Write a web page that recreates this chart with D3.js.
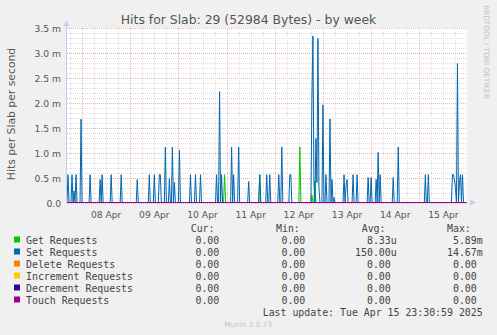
<!DOCTYPE html>
<html>
<head>
<meta charset="utf-8">
<script src="https://cdn.jsdelivr.net/npm/d3@7"></script>
<style>
  body { margin: 0; background: #f0f0f0; }
  svg text { white-space: pre; }
</style>
</head>
<body>
<svg id="chart" width="497" height="335"></svg>
<script>
// hours since 08 Apr 00:00, values in milli-hits per second (sparse, zero elsewhere)
const setHours = [-7, -5, -4, -3, -0.5, 4, 9, 10, 14.5, 19.5, 27.5, 33.5, 36, 38.5, 39, 41.5, 43.5, 45, 46, 48.5,
  54, 56.5, 59, 67, 68.5, 69.5, 74.5, 75.5, 78, 83, 88.5, 92, 93.5, 98, 99.5, 103.5, 104,
  114.5, 115, 115.5, 116.5, 117, 117.5, 118, 120, 121.5, 123.5, 124.5, 125.5,
  130.5, 131.5, 132, 135, 137, 142.5, 144, 146.5, 147.5, 148.5, 155, 157.5,
  171, 172.5, 184.5, 185, 185.5, 186, 187, 188, 188.5, 189.5];
const setValues = [0.556, 0.556, 0.23, 0.556, 1.667, 0.556, 0.46, 0.556, 0.556, 0.556, 0.46, 0.556, 0.556, 0.556, 0.556, 1.11, 0.48, 1.11, 0.4, 1.05,
  0.556, 0.556, 0.556, 0.556, 2.22, 0.556, 1.11, 0.556, 1.11, 0.42, 0.556, 0.556, 0.556, 0.556, 1.11, 0.556, 0.556,
  2.08, 3.33, 0.4, 1.28, 0.4, 3.28, 0.3, 1.95, 0.556, 1.67, 0.46, 0.1,
  0.556, 0.33, 0.46, 0.556, 0.556, 0.5, 0.5, 0.46, 1.0, 0.556, 0.5, 1.11,
  0.556, 0.556, 0.556, 0.556, 0.45, 0.3, 2.78, 0.4, 0.556, 0.556];
const getHours = [71, 88.5, 108.5, 114.5, 116];
const getValues = [0.556, 0.556, 1.11, 0.15, 0.43];

const seriesNames = ["Get Requests", "Set Requests", "Delete Requests", "Increment Requests", "Decrement Requests", "Touch Requests"];
const seriesColors = ["#00cc00", "#0066b3", "#ff8000", "#ffcc00", "#330099", "#990099"];
const curCol = ["0.00 ", "0.00 ", "0.00 ", "0.00 ", "0.00 ", "0.00 "];
const minCol = ["0.00 ", "0.00 ", "0.00 ", "0.00 ", "0.00 ", "0.00 "];
const avgCol = ["8.33u", "150.00u", "0.00 ", "0.00 ", "0.00 ", "0.00 "];
const maxCol = ["5.89m", "14.67m", "0.00 ", "0.00 ", "0.00 ", "0.00 "];

const yTicks = [0, 0.5, 1.0, 1.5, 2.0, 2.5, 3.0, 3.5];
const dayLabels = ["08 Apr", "09 Apr", "10 Apr", "11 Apr", "12 Apr", "13 Apr", "14 Apr", "15 Apr"];

const svg = d3.select("#chart");
const pL = 67, pR = 467, pT = 28, pB = 203;

const x = d3.scaleLinear().domain([-7.5, 191.75]).range([pL, pR]);
const y = d3.scaleLinear().domain([0, 3.5]).range([pB, pT]);

svg.append("rect").attr("width", 497).attr("height", 335).attr("fill", "#f0f0f0");
svg.append("rect").attr("x", pL).attr("y", pT).attr("width", pR - pL).attr("height", pB - pT).attr("fill", "#fff");

// grid
const grid = svg.append("g").attr("shape-rendering", "crispEdges").attr("stroke-dasharray", "1,1");
d3.range(0, 3.51, 0.1).forEach(v => {
  const major = Math.abs(v * 2 - Math.round(v * 2)) < 1e-6;
  grid.append("line")
    .attr("x1", pL).attr("x2", pR)
    .attr("y1", Math.round(y(v)) + 0.5).attr("y2", Math.round(y(v)) + 0.5)
    .attr("stroke", major ? "#eeb4b4" : "#dedede");
});
d3.range(-6, 192, 6).forEach(h => {
  const major = h % 24 === 0;
  grid.append("line")
    .attr("y1", pT).attr("y2", pB)
    .attr("x1", Math.round(x(h)) + 0.5).attr("x2", Math.round(x(h)) + 0.5)
    .attr("stroke", major ? "#eeb4b4" : "#dedede");
});

// series
function buildSeries(hours, values) {
  const m = new Map(hours.map((h, i) => [Math.round(h * 2), values[i]]));
  return d3.range(-15, 384).map(k => ({ t: k / 2, v: m.get(k) || 0 }));
}
const allSeries = [
  buildSeries(getHours, getValues),
  buildSeries(setHours, setValues),
  buildSeries([], []),
  buildSeries([], []),
  buildSeries([], []),
  buildSeries([], [])
];
const line = d3.line().x(d => x(d.t)).y(d => y(d.v) - 0.5);
allSeries.forEach((s, i) => {
  svg.append("path")
    .attr("d", line(s))
    .attr("fill", "none")
    .attr("stroke", seriesColors[i])
    .attr("stroke-width", 1);
});

// axes
const axisCol = "#c8ccf4";
svg.append("line").attr("x1", pL - 0.5).attr("x2", pL - 0.5).attr("y1", pB).attr("y2", 24).attr("stroke", axisCol);
svg.append("path").attr("d", `M${pL - 3.5},26 L${pL - 0.5},20 L${pL + 2.5},26 Z`).attr("fill", axisCol);
svg.append("path").attr("d", `M${pR + 3},${pB - 3.5} L${pR + 9},${pB - 0.5} L${pR + 3},${pB + 2.5} Z`).attr("fill", axisCol);

const labCol = "#555";
svg.append("g").selectAll("text").data(yTicks).join("text")
  .attr("x", 61).attr("y", d => y(d) + 3.5)
  .attr("text-anchor", "end")
  .attr("font-family", "DejaVu Sans").attr("font-size", 9.2).attr("fill", labCol)
  .text(d => d === 0 ? "0.0" : d.toFixed(1) + " m");

svg.append("g").selectAll("text").data(dayLabels).join("text")
  .attr("x", (d, i) => x(i * 24 + 12)).attr("y", 218)
  .attr("text-anchor", "middle")
  .attr("font-family", "DejaVu Sans").attr("font-size", 9.2).attr("fill", labCol)
  .text(d => d);

svg.append("text")
  .attr("x", 248.5).attr("y", 24)
  .attr("text-anchor", "middle")
  .attr("font-family", "DejaVu Sans").attr("font-size", 12.4).attr("fill", "#555")
  .text("Hits for Slab: 29 (52984 Bytes) - by week");

svg.append("text")
  .attr("transform", "translate(15,114) rotate(-90)")
  .attr("text-anchor", "middle")
  .attr("font-family", "DejaVu Sans").attr("font-size", 10.8).attr("fill", labCol)
  .text("Hits per Slab per second");

svg.append("text")
  .attr("transform", "translate(484,5) rotate(90)")
  .attr("font-family", "DejaVu Sans").attr("font-size", 7.3).attr("fill", "#c4c4c4")
  .text("RRDTOOL / TOBI OETIKER");

// legend
const mono = "DejaVu Sans Mono", fs = 9.9, txtCol = "#444";
const heads = [["Cur:", 190.7], ["Min:", 276], ["Avg:", 361.7], ["Max:", 447]];
heads.forEach(([t, hx]) => {
  svg.append("text").attr("x", hx).attr("y", 232)
    .attr("font-family", mono).attr("font-size", fs).attr("fill", txtCol).text(t);
});
const cols = [[curCol, 225.2], [minCol, 311.2], [avgCol, 396.7], [maxCol, 482.7]];
seriesNames.forEach((name, i) => {
  const ry = 243.5 + i * 12;
  svg.append("rect").attr("x", 14).attr("y", ry - 7).attr("width", 6).attr("height", 6).attr("fill", seriesColors[i]);
  svg.append("text").attr("x", 26).attr("y", ry)
    .attr("font-family", mono).attr("font-size", fs).attr("fill", txtCol).text(name);
  cols.forEach(([arr, cx]) => {
    svg.append("text").attr("x", cx).attr("y", ry).attr("text-anchor", "end")
      .attr("font-family", mono).attr("font-size", fs).attr("fill", txtCol).text(arr[i]);
  });
});
svg.append("text").attr("x", 482.7).attr("y", 315.5).attr("text-anchor", "end")
  .attr("font-family", mono).attr("font-size", fs).attr("fill", txtCol)
  .text("Last update: Tue Apr 15 23:30:59 2025");
svg.append("text").attr("x", 248).attr("y", 327).attr("text-anchor", "middle")
  .attr("font-family", "DejaVu Sans").attr("font-size", 7.3).attr("fill", "#c4c4c4")
  .text("Munin 2.0.73");
</script>
</body>
</html>
